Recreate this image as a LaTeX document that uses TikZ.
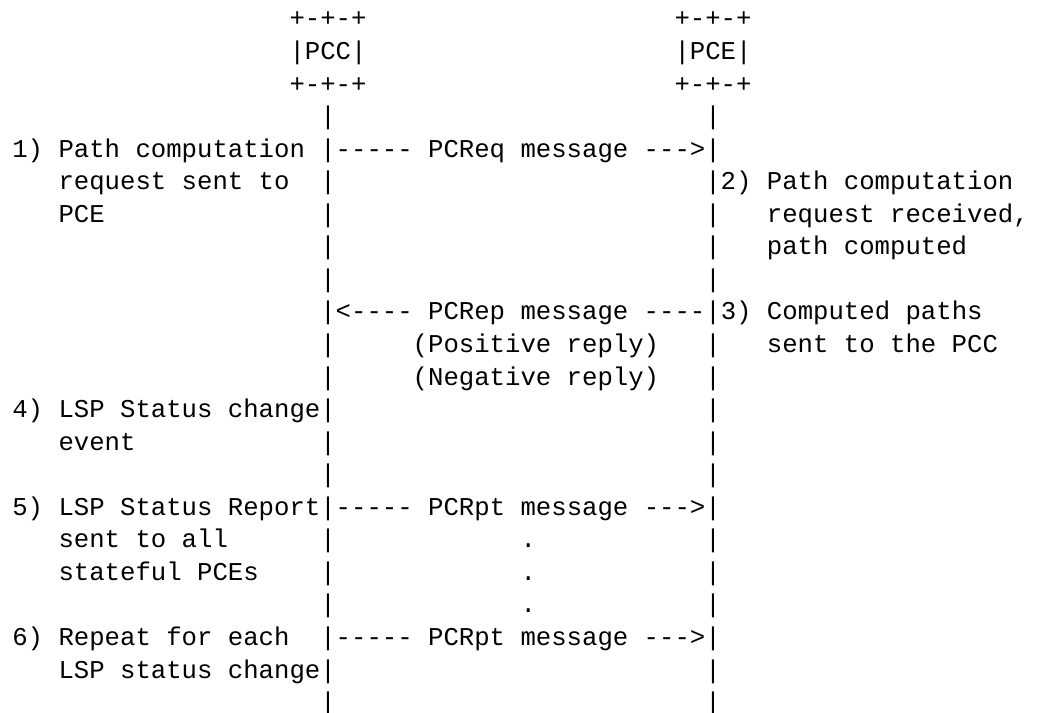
\documentclass[tikz,border=0pt]{standalone}
\usepackage{fontspec}
\setmonofont{Liberation Mono}
\newcommand\gridpos[2]{({12.3+#1*15.4},{-27-(#2-1)*32.55})}
\tikzset{
  ascii/.style={anchor=base west, inner sep=0pt, outer sep=0pt,
    font=\ttfamily\fontsize{25.67bp}{32bp}\selectfont, text=black}
}
\begin{document}
\begin{tikzpicture}[x=1bp,y=1bp]
\fill[white] (0,0) rectangle (1037,-713);
\useasboundingbox (0,0) rectangle (1037,-713);
% row 1-4: entities
\node[ascii] (pccA) at \gridpos{18}{1} {+-+-+};
\node[ascii] (pceA) at \gridpos{43}{1} {+-+-+};
\node[ascii] (pccB) at \gridpos{18}{2} {|PCC|};
\node[ascii] (pceB) at \gridpos{43}{2} {|PCE|};
\node[ascii] (pccC) at \gridpos{18}{3} {+-+-+};
\node[ascii] (pceC) at \gridpos{43}{3} {+-+-+};
\node[ascii] (l4) at \gridpos{20}{4} {|};
\node[ascii] (r4) at \gridpos{45}{4} {|};
% row 5
\node[ascii] (t5) at \gridpos{0}{5} {1) Path computation};
\node[ascii] (m5) at \gridpos{20}{5} {|----- PCReq message --->|};
% row 6
\node[ascii] (t6) at \gridpos{3}{6} {request sent to};
\node[ascii] (l6) at \gridpos{20}{6} {|};
\node[ascii] (r6) at \gridpos{45}{6} {|2) Path computation};
% row 7
\node[ascii] (t7) at \gridpos{3}{7} {PCE};
\node[ascii] (l7) at \gridpos{20}{7} {|};
\node[ascii] (r7) at \gridpos{45}{7} {|};
\node[ascii] (s7) at \gridpos{49}{7} {request received,};
% row 8
\node[ascii] (l8) at \gridpos{20}{8} {|};
\node[ascii] (r8) at \gridpos{45}{8} {|};
\node[ascii] (s8) at \gridpos{49}{8} {path computed};
% row 9
\node[ascii] (l9) at \gridpos{20}{9} {|};
\node[ascii] (r9) at \gridpos{45}{9} {|};
% row 10
\node[ascii] (m10) at \gridpos{20}{10} {|<---- PCRep message ----|3) Computed paths};
% row 11
\node[ascii] (l11) at \gridpos{20}{11} {|};
\node[ascii] (p11) at \gridpos{26}{11} {(Positive reply)};
\node[ascii] (r11) at \gridpos{45}{11} {|};
\node[ascii] (s11) at \gridpos{49}{11} {sent to the PCC};
% row 12
\node[ascii] (l12) at \gridpos{20}{12} {|};
\node[ascii] (p12) at \gridpos{26}{12} {(Negative reply)};
\node[ascii] (r12) at \gridpos{45}{12} {|};
% row 13
\node[ascii] (t13) at \gridpos{0}{13} {4) LSP Status change|};
\node[ascii] (r13) at \gridpos{45}{13} {|};
% row 14
\node[ascii] (t14) at \gridpos{3}{14} {event};
\node[ascii] (l14) at \gridpos{20}{14} {|};
\node[ascii] (r14) at \gridpos{45}{14} {|};
% row 15
\node[ascii] (l15) at \gridpos{20}{15} {|};
\node[ascii] (r15) at \gridpos{45}{15} {|};
% row 16
\node[ascii] (t16) at \gridpos{0}{16} {5) LSP Status Report|----- PCRpt message --->|};
% row 17
\node[ascii] (t17) at \gridpos{3}{17} {sent to all};
\node[ascii] (l17) at \gridpos{20}{17} {|};
\node[ascii] (d17) at \gridpos{33}{17} {.};
\node[ascii] (r17) at \gridpos{45}{17} {|};
% row 18
\node[ascii] (t18) at \gridpos{3}{18} {stateful PCEs};
\node[ascii] (l18) at \gridpos{20}{18} {|};
\node[ascii] (d18) at \gridpos{33}{18} {.};
\node[ascii] (r18) at \gridpos{45}{18} {|};
% row 19
\node[ascii] (l19) at \gridpos{20}{19} {|};
\node[ascii] (d19) at \gridpos{33}{19} {.};
\node[ascii] (r19) at \gridpos{45}{19} {|};
% row 20
\node[ascii] (t20) at \gridpos{0}{20} {6) Repeat for each};
\node[ascii] (m20) at \gridpos{20}{20} {|----- PCRpt message --->|};
% row 21
\node[ascii] (t21) at \gridpos{3}{21} {LSP status change|};
\node[ascii] (r21) at \gridpos{45}{21} {|};
% row 22
\node[ascii] (l22) at \gridpos{20}{22} {|};
\node[ascii] (r22) at \gridpos{45}{22} {|};
\end{tikzpicture}
\end{document}
